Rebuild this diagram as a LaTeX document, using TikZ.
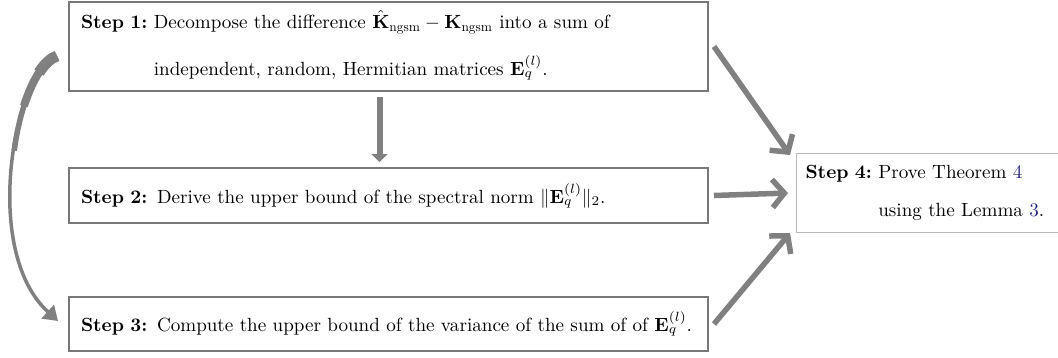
\documentclass[tikz,border=0pt]{standalone}
\usepackage{amsmath,amssymb}
\usepackage{fontspec}
\setmainfont{lmroman10-regular.otf}[BoldFont=lmroman10-bold.otf,ItalicFont=lmroman10-italic.otf]
\usetikzlibrary{arrows.meta}
\definecolor{arrgray}{RGB}{128,128,128}
\definecolor{boxgray}{RGB}{120,120,120}
\definecolor{linkblue}{RGB}{40,40,130}
\newcommand{\bigtxt}[1]{\scalebox{1.91}{#1}}
\tikzset{
  stepbox/.style={draw=boxgray, line width=2pt, rectangle, anchor=north west,
    inner ysep=0pt, font=\fontsize{10}{12}\selectfont},
  lightbox/.style={draw=gray!55, line width=1pt, rectangle, anchor=north west,
    inner ysep=0pt, font=\fontsize{10}{12}\selectfont},
  bigarrow/.style={draw=arrgray, line width=5.5pt, -{Straight Barb[length=12pt,width=28pt]}},
  downarrow/.style={draw=arrgray, line width=6pt, -{Triangle[length=8pt,width=16pt]}},
  curvearrow/.style={draw=arrgray, line width=3.5pt, -{Triangle[length=14pt,width=18pt]}},
  taper/.style={draw=arrgray, line cap=butt},
}
\begin{document}
\begin{tikzpicture}[x=1pt,y=-1pt]
\useasboundingbox (0,0) rectangle (1058,357);
\node[stepbox, minimum width=639pt, minimum height=89pt, inner xsep=12pt, text width=615pt] (b1) at (68,1)
  {\bigtxt{\begin{tabular}{@{}l@{\ }l@{}}\textbf{Step 1:} & Decompose the difference $\hat{\mathbf{K}}_{\text{ngsm}}-\mathbf{K}_{\text{ngsm}}$ into a sum of\\[10.6pt]
   & independent, random, Hermitian matrices $\mathbf{E}_q^{(l)}$.\end{tabular}}};
\node[stepbox, minimum width=639pt, minimum height=55pt, inner xsep=12pt, text width=615pt] (b2) at (68,167)
  {\bigtxt{\textbf{Step 2:} Derive the upper bound of the spectral norm $\|\mathbf{E}_q^{(l)}\|_2$.}};
\node[stepbox, minimum width=639pt, minimum height=54pt, inner xsep=12pt, text width=615pt] (b3) at (68,296)
  {\bigtxt{\textbf{Step 3:} Compute the upper bound of the variance of the sum of of $\mathbf{E}_q^{(l)}$.}};
\node[lightbox, minimum width=262pt, minimum height=79pt, inner xsep=9pt, text width=244pt] (b4) at (796,153)
  {\bigtxt{\begin{tabular}{@{}l@{\ }l@{}}\textbf{Step 4:} & Prove Theorem \textcolor{linkblue}{4}\\[7.5pt]
   & using the Lemma \textcolor{linkblue}{3}.\end{tabular}}};
\draw[downarrow] ([shift={(-9pt,-5pt)}]b1.south) -- ([shift={(-9pt,5pt)}]b2.north);
% tapered start of the curved connector (pieces of the same curve, thicker near its start)
\draw[taper, line width=11pt] (57,56) .. controls (50.7,58.1) and (44.56,63.94) .. (38.93,72.57);
\draw[taper, line width=8pt] (57,56) .. controls (44.4,60.2) and (32.43,79.34) .. (23.96,105.97);
\draw[taper, line width=5.5pt] (57,56) .. controls (38.1,62.3) and (20.62,102.22) .. (14.22,150.6);
\draw[curvearrow] ([shift={(-11pt,-10.5pt)}]b1.west) .. controls (15,70) and (-20,250) .. ([shift={(-10pt,3pt)}]b3.west);
\draw[bigarrow] ([xshift=5pt]b1.east) -- ([shift={(-6pt,-2pt)}]b4.north west);
\draw[bigarrow] ([xshift=5pt]b2.east) -- ([xshift=-8pt]b4.west);
\draw[bigarrow] ([xshift=5pt]b3.east) -- ([xshift=-6pt]b4.south west);
\end{tikzpicture}
\end{document}
